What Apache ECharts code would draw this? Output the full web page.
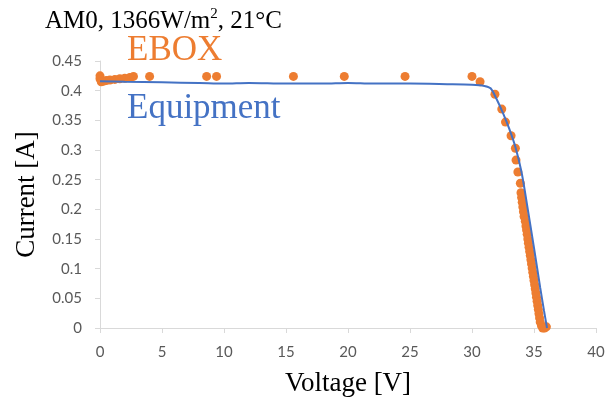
<!DOCTYPE html>
<html>
<head>
<meta charset="utf-8">
<script src="https://cdn.jsdelivr.net/npm/echarts@6/dist/echarts.min.js"></script>
<style>
  html, body { margin: 0; padding: 0; background: #fff; }
  #chart { width: 615px; height: 399px; }
</style>
</head>
<body>
<div id="chart"></div>
<script>
// EBOX measured points: voltage [V], current [A]
const eboxV = [0, 0, 0.1, 0.3, 0.5, 0.8, 1.2, 1.6, 2.0, 2.4, 2.7, 4.0, 8.6, 9.4, 15.6, 19.7, 24.6,
    30.0, 30.65, 31.85, 32.4, 32.7, 33.15, 33.5, 33.55, 33.7, 33.9,
    33.95, 34.0, 34.05, 34.1, 34.15, 34.2, 34.3, 34.35, 34.4, 34.45, 34.5, 34.55, 34.6, 34.65,
    34.7, 34.75, 34.8, 34.85, 34.9, 34.95, 35.0, 35.05, 35.1, 35.15, 35.2, 35.25, 35.3, 35.35,
    35.4, 35.45, 35.5, 35.6, 35.7, 35.85, 36.0];
const eboxI = [0.425, 0.42, 0.415, 0.416, 0.417, 0.418, 0.419, 0.42, 0.421, 0.422, 0.424, 0.424, 0.424, 0.424, 0.424, 0.424, 0.424,
    0.424, 0.415, 0.394, 0.369, 0.347, 0.324, 0.303, 0.283, 0.263, 0.244,
    0.228, 0.220, 0.212, 0.204, 0.196, 0.188, 0.180, 0.172, 0.165, 0.158, 0.150, 0.143, 0.136, 0.129,
    0.122, 0.115, 0.108, 0.101, 0.094, 0.087, 0.080, 0.073, 0.066, 0.059, 0.052, 0.045, 0.038, 0.031,
    0.024, 0.017, 0.010, 0.004, 0.0, 0.0, 0.002];

// Equipment curve
const equipV = [0, 2, 5, 8, 10, 12, 15, 18, 20, 22, 25, 28, 30, 31, 31.5, 32, 32.5, 33, 33.5, 34, 34.5, 35, 35.5, 35.8, 36.05];
const equipI = [0.416, 0.415, 0.414, 0.413, 0.412, 0.413, 0.412, 0.412, 0.413, 0.412, 0.412, 0.411, 0.410, 0.408, 0.404,
    0.385, 0.362, 0.336, 0.305, 0.262, 0.200, 0.135, 0.068, 0.030, 0.0];

const xTicks = [0, 40, 5];     // min, max, interval
const yTicks = [0, 0.45, 0.05];

const serif = '"Liberation Serif", "DejaVu Serif", serif';
const sans = 'Lato, "Open Sans", sans-serif';

const chart = echarts.init(document.getElementById('chart'));

const option = {
    animation: false,
    grid: { left: 100, right: 19, top: 61, bottom: 71, outerBoundsMode: 'none', containLabel: false },
    title: [
        { text: '{a|AM0, 1366W/m}{s|2}{a|, 21°C}', left: 40, top: 2,
          textStyle: {
              fontFamily: serif, fontSize: 25, fontWeight: 'normal', color: '#000',
              rich: {
                  a: { fontFamily: serif, fontSize: 25, fontWeight: 'normal', color: '#000', lineHeight: 28 },
                  s: { fontFamily: serif, fontSize: 15, fontWeight: 'normal', color: '#000', lineHeight: 18, verticalAlign: 'top' }
              }
          } },
        { text: 'EBOX', left: 122, top: 28,
          textStyle: { fontFamily: serif, fontSize: 35, fontWeight: 'normal', color: '#ED7D31' } },
        { text: 'Equipment', left: 122, top: 86,
          textStyle: { fontFamily: serif, fontSize: 35, fontWeight: 'normal', color: '#4472C4' } }
    ],
    xAxis: {
        type: 'value',
        min: xTicks[0], max: xTicks[1], interval: xTicks[2],
        name: 'Voltage [V]', nameLocation: 'middle', nameGap: 42,
        nameTextStyle: { fontFamily: serif, fontSize: 27, color: '#000' },
        axisLine: { show: true, lineStyle: { color: '#d9d9d9' } },
        axisTick: { show: true, length: 5, lineStyle: { color: '#d9d9d9' } },
        axisLabel: { fontFamily: sans, fontSize: 15, color: '#595959', margin: 17 },
        splitLine: { show: false }
    },
    yAxis: {
        type: 'value',
        min: yTicks[0], max: yTicks[1], interval: yTicks[2],
        name: 'Current [A]', nameLocation: 'middle', nameGap: 60, nameRotate: 90,
        nameTextStyle: { fontFamily: serif, fontSize: 27, color: '#000' },
        axisLine: { show: true, lineStyle: { color: '#d9d9d9' } },
        axisTick: { show: true, length: 5, lineStyle: { color: '#d9d9d9' } },
        axisLabel: { fontFamily: sans, fontSize: 15, color: '#595959', margin: 18 },
        splitLine: { show: false }
    },
    series: [
        {
            name: 'EBOX',
            type: 'scatter',
            data: eboxV.map((v, i) => [v, eboxI[i]]),
            symbolSize: 9,
            itemStyle: { color: '#ED7D31', opacity: 1 },
            z: 2
        },
        {
            name: 'Equipment',
            type: 'line',
            data: equipV.map((v, i) => [v, equipI[i]]),
            smooth: 0.3,
            showSymbol: false,
            lineStyle: { color: '#4472C4', width: 2 },
            z: 3
        }
    ]
};

chart.setOption(option);
</script>
</body>
</html>
